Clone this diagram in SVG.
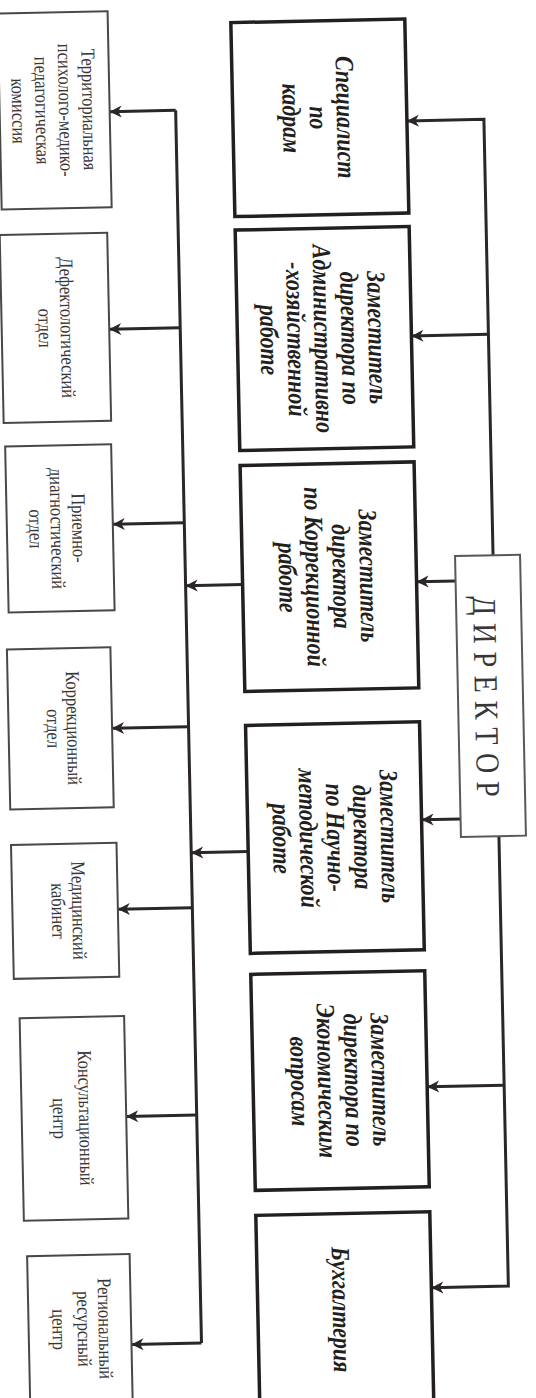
<svg xmlns="http://www.w3.org/2000/svg" width="536" height="1398" viewBox="0 0 536 1398">
<style>
.bold{fill:#fff;stroke:#231f20;stroke-width:3.5}
.thin{fill:#fff;stroke:#4a4748;stroke-width:2}
.dir{fill:#fff;stroke:#5a5758;stroke-width:2}
.ln{fill:none;stroke:#2b2629;stroke-width:3}
.tb{font-family:'Liberation Serif','Times New Roman',serif;font-size:22px;font-weight:bold;font-style:italic;fill:#231f20;text-anchor:middle}
.tr{font-family:'Liberation Serif','Times New Roman',serif;font-size:16.5px;fill:#3a3637;text-anchor:middle}
.td{font-family:'Liberation Serif','Times New Roman',serif;font-size:28px;fill:#3a3637;text-anchor:middle}
</style>
<defs>
<marker id="ah" markerUnits="userSpaceOnUse" viewBox="-13 -7 14 14" refX="0" refY="0" markerWidth="14" markerHeight="14" orient="auto">
<path d="M-12,-6 L0,0 L-12,6 L-8.5,0 Z" fill="#2b2629"/>
</marker>
</defs>
<rect width="536" height="1398" fill="#fff"/>
<g transform="rotate(-1.2 268 699)">
<g id="connectors">
<path class="ln" d="M188 108.5 V1341.5"/>
<path class="ln" d="M188 108.5 H122" marker-end="url(#ah)"/>
<path class="ln" d="M188 326 H117" marker-end="url(#ah)"/>
<path class="ln" d="M188 521 H116.5" marker-end="url(#ah)"/>
<path class="ln" d="M188 725 H111.5" marker-end="url(#ah)"/>
<path class="ln" d="M188 906 H113.5" marker-end="url(#ah)"/>
<path class="ln" d="M188 1113.5 H117.5" marker-end="url(#ah)"/>
<path class="ln" d="M188 1341.5 H118" marker-end="url(#ah)"/>
<path class="ln" d="M496 560 V124 H419" marker-end="url(#ah)"/>
<path class="ln" d="M496 339 H419" marker-end="url(#ah)"/>
<path class="ln" d="M496 841 V1291 H419" marker-end="url(#ah)"/>
<path class="ln" d="M496 1090 H419" marker-end="url(#ah)"/>
<path class="ln" d="M458 585 H419" marker-end="url(#ah)"/>
<path class="ln" d="M458 823 H419" marker-end="url(#ah)"/>
<path class="ln" d="M245 584 H188" marker-end="url(#ah)"/>
<path class="ln" d="M245 851 H188" marker-end="url(#ah)"/>
</g>
<g id="director">
<rect class="dir" x="458" y="560" width="65" height="281"/>
<text class="td" transform="translate(486 701) rotate(90) scale(1 1.2)" x="0" y="9.2" textLength="201" lengthAdjust="spacing">Д И Р Е К Т О Р</text>
</g>
<g id="spec-kadry">
<rect class="bold" x="245" y="22" width="174" height="194"/>
<text class="tb" transform="translate(328 119) rotate(90) scale(1 1.2)"><tspan x="0" y="-17.5">Специалист</tspan><tspan x="0" y="5">по</tspan><tspan x="0" y="27.5">кадрам</tspan></text>
</g>
<g id="zam-ahr">
<rect class="bold" x="245" y="229.5" width="174" height="220.5"/>
<text class="tb" transform="translate(328 340) rotate(90) scale(1 1.2)"><tspan x="0" y="-40">Заместитель</tspan><tspan x="0" y="-17.5">директора по</tspan><tspan x="0" y="5">Административно</tspan><tspan x="0" y="27.5">-хозяйственной</tspan><tspan x="0" y="50">работе</tspan></text>
</g>
<g id="zam-korr">
<rect class="bold" x="245" y="465" width="174" height="226"/>
<text class="tb" transform="translate(328 578) rotate(90) scale(1 1.2)"><tspan x="0" y="-28.75">Заместитель</tspan><tspan x="0" y="-6.25">директора</tspan><tspan x="0" y="16.25">по Коррекционной</tspan><tspan x="0" y="38.75">работе</tspan></text>
</g>
<g id="zam-nauch">
<rect class="bold" x="245" y="725" width="174" height="228"/>
<text class="tb" transform="translate(330 839) rotate(90) scale(1 1.2)"><tspan x="0" y="-40">Заместитель</tspan><tspan x="0" y="-17.5">директора</tspan><tspan x="0" y="5">по Научно-</tspan><tspan x="0" y="27.5">методической</tspan><tspan x="0" y="50">работе</tspan></text>
</g>
<g id="zam-econ">
<rect class="bold" x="245" y="974" width="174" height="216"/>
<text class="tb" transform="translate(329.5 1082) rotate(90) scale(1 1.2)"><tspan x="0" y="-28.75">Заместитель</tspan><tspan x="0" y="-6.25">директора по</tspan><tspan x="0" y="16.25">Экономическим</tspan><tspan x="0" y="38.75">вопросам</tspan></text>
</g>
<g id="buh">
<rect class="bold" x="245" y="1215" width="174" height="230"/>
<text class="tb" transform="translate(326 1311) rotate(90) scale(1 1.2)" x="0" y="5">Бухгалтерия</text>
</g>
<g id="tpmpk">
<rect class="thin" x="12" y="8" width="110" height="196"/>
<text class="tr" transform="translate(64 106) rotate(90) scale(1 1.2)"><tspan x="0" y="-25.8">Территориальная</tspan><tspan x="0" y="-6.2">психолого-медико-</tspan><tspan x="0" y="13.4">педагогическая</tspan><tspan x="0" y="33">комиссия</tspan></text>
</g>
<g id="defekt">
<rect class="thin" x="9.5" y="229.5" width="107.5" height="188"/>
<text class="tr" transform="translate(62 323.5) rotate(90) scale(1 1.2)"><tspan x="0" y="-5.4">Дефектологический</tspan><tspan x="0" y="13">отдел</tspan></text>
</g>
<g id="priem">
<rect class="thin" x="10.5" y="441" width="106" height="166"/>
<text class="tr" transform="translate(59 524) rotate(90) scale(1 1.2)"><tspan x="0" y="-14.1">Приемно-</tspan><tspan x="0" y="3.8">диагностический</tspan><tspan x="0" y="21.7">отдел</tspan></text>
</g>
<g id="korr-otdel">
<rect class="thin" x="8" y="644" width="103.5" height="160"/>
<text class="tr" transform="translate(61 724) rotate(90) scale(1 1.2)"><tspan x="0" y="-4.5">Коррекционный</tspan><tspan x="0" y="12.1">отдел</tspan></text>
</g>
<g id="med">
<rect class="thin" x="8" y="839.5" width="105.5" height="134"/>
<text class="tr" transform="translate(62 906.5) rotate(90) scale(1 1.2)"><tspan x="0" y="-4.95">Медицинский</tspan><tspan x="0" y="12.1">кабинет</tspan></text>
</g>
<g id="konsult">
<rect class="thin" x="13" y="1013" width="104.5" height="202.5"/>
<text class="tr" transform="translate(62 1114) rotate(90) scale(1 1.2)"><tspan x="0" y="-7">Консультационный</tspan><tspan x="0" y="14.6">центр</tspan></text>
</g>
<g id="region">
<rect class="thin" x="15.5" y="1251" width="102.5" height="200"/>
<text class="tr" transform="translate(67 1325) rotate(90) scale(1 1.2)"><tspan x="0" y="-15.4">Региональный</tspan><tspan x="0" y="2.1">ресурсный</tspan><tspan x="0" y="23">центр</tspan></text>
</g>
</g>
</svg>
